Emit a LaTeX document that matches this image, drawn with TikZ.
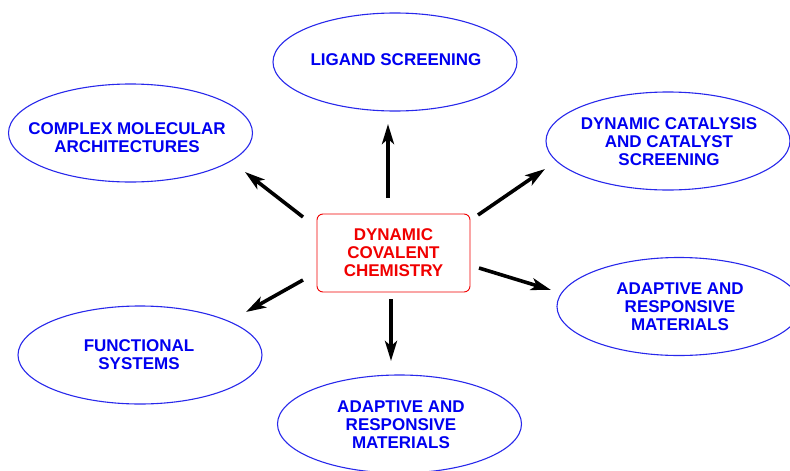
\documentclass[tikz,border=0pt]{standalone}
\usepackage{fontspec}
\setmainfont{Liberation Sans}
\usetikzlibrary{arrows.meta}
\definecolor{topicblue}{RGB}{0,0,240}
\definecolor{ringblue}{RGB}{40,40,235}
\definecolor{corered}{RGB}{240,0,0}
\begin{document}
\begin{tikzpicture}[x=1pt,y=-1pt,
  label/.style={font=\fontsize{17}{18}\selectfont\bfseries, text=topicblue, align=center, inner sep=0pt},
  ring/.style={draw=ringblue, line width=1.1pt},
  core/.style={draw=corered, line width=0.9pt, rounded corners=6pt, minimum width=153pt, minimum height=78pt,
    font=\fontsize{17}{18}\selectfont\bfseries, text=corered, align=center},
  link/.style={line width=3.6pt, -{Stealth[length=20pt,width=12pt,inset=5pt]}}]
\useasboundingbox (0,0) rectangle (790,471);

% central topic
\node[core] (dcc) at (393.5,253) {DYNAMIC\\COVALENT\\CHEMISTRY};

% surrounding topics: text nodes with their ellipses
\node[label] (lig) at (396,60) {LIGAND SCREENING};
\draw[ring] (395,62) ellipse [x radius=122, y radius=49];

\node[label] (cma) at (127,137.5) {COMPLEX MOLECULAR\\ARCHITECTURES};
\draw[ring] (130.5,133) ellipse [x radius=122, y radius=49];

\node[label] (cat) at (669,142) {DYNAMIC CATALYSIS\\AND CATALYST\\SCREENING};
\draw[ring] (668,141) ellipse [x radius=122, y radius=49];

\node[label] (arm) at (680,307) {ADAPTIVE AND\\RESPONSIVE\\MATERIALS};
\draw[ring] (679,306.5) ellipse [x radius=122, y radius=49];

\node[label] (fun) at (139,355) {FUNCTIONAL\\SYSTEMS};
\draw[ring] (140,355) ellipse [x radius=122, y radius=49];

\node[label] (arm2) at (401,425) {ADAPTIVE AND\\RESPONSIVE\\MATERIALS};
\draw[ring] (399.5,424) ellipse [x radius=122, y radius=49];

% arrow end points
\coordinate (t1) at (388,198);  \coordinate (h1) at (388,124);
\coordinate (t2) at (303,217);  \coordinate (h2) at (245,172);
\coordinate (t3) at (478,215);  \coordinate (h3) at (545,169);
\coordinate (t4) at (479,268);  \coordinate (h4) at (551,290);
\coordinate (t5) at (303,280);  \coordinate (h5) at (246,312);
\coordinate (t6) at (391,299);  \coordinate (h6) at (391,361);

\draw[link] (t1) -- (h1);
\draw[link] (t2) -- (h2);
\draw[link] (t3) -- (h3);
\draw[link] (t4) -- (h4);
\draw[link] (t5) -- (h5);
\draw[link] (t6) -- (h6);
\end{tikzpicture}
\end{document}
